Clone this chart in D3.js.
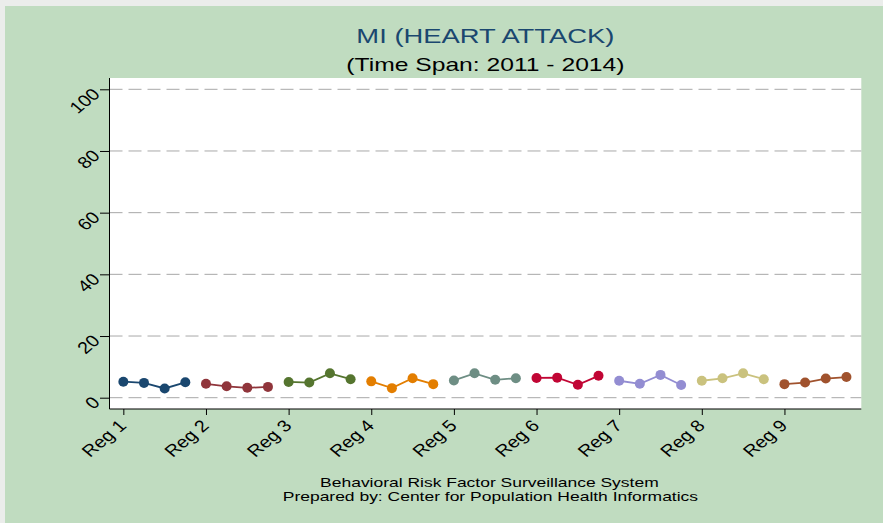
<!DOCTYPE html>
<html>
<head>
<meta charset="utf-8">
<script src="https://cdn.jsdelivr.net/npm/d3@7"></script>
<style>
  body { margin: 0; background: #ebedeb; }
  svg { display: block; }
</style>
</head>
<body>
<div id="chart"></div>
<script>
// Data
var regions = ["Reg 1", "Reg 2", "Reg 3", "Reg 4", "Reg 5", "Reg 6", "Reg 7", "Reg 8", "Reg 9"];
var years = [2011, 2012, 2013, 2014];
var reg1 = [5.2, 4.8, 3.0, 5.0];
var reg2 = [4.5, 3.7, 3.2, 3.5];
var reg3 = [5.1, 4.9, 7.9, 6.0];
var reg4 = [5.3, 3.1, 6.3, 4.4];
var reg5 = [5.6, 7.9, 5.8, 6.3];
var reg6 = [6.4, 6.5, 4.2, 7.1];
var reg7 = [5.5, 4.5, 7.4, 4.1];
var reg8 = [5.5, 6.3, 7.9, 6.0];
var reg9 = [4.4, 4.9, 6.2, 6.7];
var yTicks = [0, 20, 40, 60, 80, 100];

var series = [reg1, reg2, reg3, reg4, reg5, reg6, reg7, reg8, reg9];
var colors = ["#1a476f", "#90353b", "#55752f", "#e37e00", "#6e8e84",
              "#c10534", "#938dd2", "#cac27e", "#a0522d"];

// SVG
var svgWidth = 883, svgHeight = 523;
var margin = { top: 78, left: 109.5 };
var width = 861.3 - margin.left;
var height = 409 - margin.top;
var font = "Liberation Sans, Arial, sans-serif";
var stretch = 1.37;     // titles in the picture are drawn wide
var tickStretch = 1.2;  // tick labels a bit less

var svg = d3.select("#chart").append("svg")
    .attr("width", svgWidth)
    .attr("height", svgHeight);

svg.append("rect")
    .attr("x", 5).attr("y", 6)
    .attr("width", svgWidth - 5).attr("height", svgHeight - 6)
    .attr("fill", "#c0dcc0");

var g = svg.append("g")
    .attr("transform", "translate(" + margin.left + "," + margin.top + ")");

g.append("rect")
    .attr("width", width)
    .attr("height", height)
    .attr("fill", "white");

// Scales: each region holds its 4 years as quarter steps
var n = years.length;
var x = d3.scaleLinear()
    .domain([-0.67, regions.length * n - 1 + 0.72])
    .range([0, width]);

var y = d3.scaleLinear()
    .domain([0, 100])
    .range([397.7 - margin.top, 89.3 - margin.top]);

// Gridlines
g.selectAll(".grid")
    .data(yTicks)
    .enter().append("line")
    .attr("x1", 0).attr("x2", width)
    .attr("y1", d => y(d)).attr("y2", d => y(d))
    .attr("stroke", "#a8a8a8")
    .attr("stroke-width", 1)
    .attr("stroke-dasharray", "13,6");

// Y axis
var yAxis = g.append("g")
    .call(d3.axisLeft(y).tickValues(yTicks).tickSize(9.5));
yAxis.select(".domain").attr("stroke", "black").attr("d", "M0,0V" + height);
yAxis.selectAll(".tick line").attr("stroke", "black");
yAxis.selectAll(".tick text")
    .attr("font-family", font)
    .attr("font-size", 16.5)
    .attr("fill", "black")
    .attr("text-anchor", "end")
    .attr("dy", null)
    .attr("x", null)
    .attr("transform", "translate(-13,1.5) scale(" + tickStretch + ",1) rotate(-45)")
    .attr("dominant-baseline", "central");

// X axis
var xAxis = g.append("g")
    .attr("transform", "translate(0," + height + ")")
    .call(d3.axisBottom(x)
        .tickValues(regions.map((r, i) => i * n))
        .tickFormat((d, i) => regions[i])
        .tickSize(6));
xAxis.select(".domain").attr("stroke", "black").attr("stroke-width", 1.2).attr("d", "M0,0H" + width);
xAxis.selectAll(".tick line").attr("stroke", "black");
xAxis.selectAll(".tick text")
    .attr("font-family", font)
    .attr("font-size", 16.5)
    .attr("fill", "black")
    .attr("text-anchor", "end")
    .attr("y", null).attr("dy", null)
    .attr("transform", "translate(-1,14) scale(" + tickStretch + ",1) rotate(-45)")
    .attr("dominant-baseline", "central");

// Lines and markers
var line = d3.line()
    .x(d => x(d.t))
    .y(d => y(d.v));

series.forEach(function (vals, i) {
    var pts = vals.map((v, j) => ({ t: i * n + j, v: v }));
    g.append("path")
        .datum(pts)
        .attr("d", line)
        .attr("fill", "none")
        .attr("stroke", colors[i])
        .attr("stroke-width", 1.8);
    g.selectAll(".pt" + i)
        .data(pts)
        .enter().append("circle")
        .attr("cx", d => x(d.t))
        .attr("cy", d => y(d.v))
        .attr("r", 5)
        .attr("fill", colors[i]);
});

// Titles
var cx = margin.left + width / 2;
function addText(txt, tx, ty, size, color) {
    svg.append("text")
        .attr("transform", "translate(" + tx + "," + ty + ") scale(" + stretch + ",1)")
        .attr("text-anchor", "middle")
        .attr("font-family", font)
        .attr("font-size", size)
        .attr("fill", color)
        .text(txt);
}
addText("MI (HEART ATTACK)", cx, 42.7, 20, "#1a476f");
addText("(Time Span: 2011 - 2014)", cx, 70.8, 18, "black");
addText("Behavioral Risk Factor Surveillance System", cx + 4, 486.7, 12.75, "black");
addText("Prepared by: Center for Population Health Informatics", cx + 5, 500.7, 12.75, "black");
</script>
</body>
</html>
